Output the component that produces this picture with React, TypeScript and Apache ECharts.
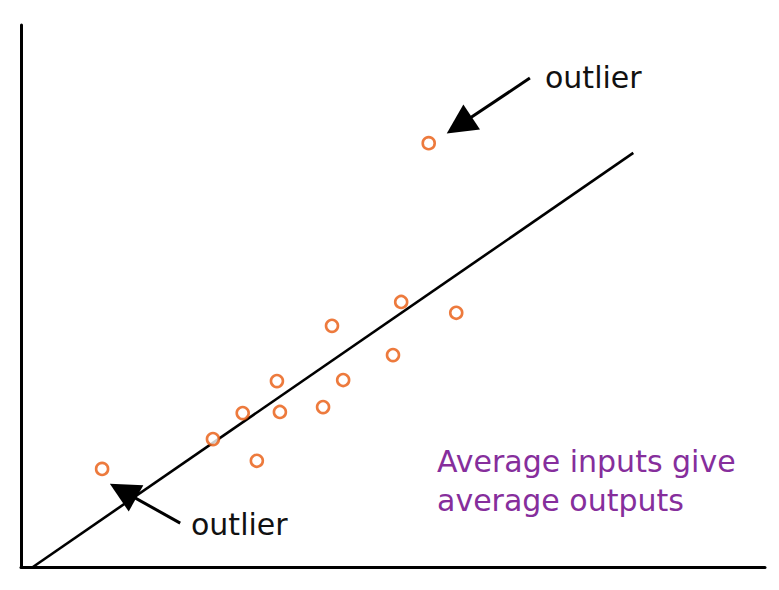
import React, { useEffect, useRef } from "react";
import * as echarts from "echarts";

// Scatter points [input, output]
const points: [number, number][] = [
  [54.8, 78.2],
  [10.9, 18.1],
  [51.1, 48.9],
  [58.5, 46.9],
  [41.8, 44.5],
  [50.0, 39.1],
  [34.4, 34.3],
  [43.3, 34.5],
  [29.8, 28.4],
  [34.8, 28.6],
  [40.6, 29.5],
  [25.8, 23.6],
  [31.7, 19.6],
];

// Trend line endpoints
const trendLine: [number, number][] = [
  [1.6, 0],
  [82.3, 76.4],
];

// Annotation arrows: [from, to]
const arrowTop: [number, number][] = [
  [68.4, 90.2],
  [58.9, 81.5],
];
const arrowBottom: [number, number][] = [
  [21.4, 8.1],
  [13.7, 14.0],
];

const labels = {
  outlier: "outlier",
  note1: "Average inputs give",
  note2: "average outputs",
};

const ORANGE = "#e8590c";
const PURPLE = "#862e9c";
const FONT = "'DejaVu Sans', sans-serif";

export default function App() {
  const ref = useRef<HTMLDivElement>(null);
  useEffect(() => {
    if (!ref.current) return;
    const chart = echarts.init(ref.current, undefined, { renderer: "svg" });
    chart.setOption({
      animation: false,
      backgroundColor: "#ffffff",
      grid: { left: 21, right: 14, top: 25, bottom: 23 },
      xAxis: {
        type: "value",
        min: 0,
        max: 100,
        axisLine: { show: true, lineStyle: { color: "#000", width: 3 } },
        axisTick: { show: false },
        axisLabel: { show: false },
        splitLine: { show: false },
      },
      yAxis: {
        type: "value",
        min: 0,
        max: 100,
        axisLine: { show: true, lineStyle: { color: "#000", width: 3 } },
        axisTick: { show: false },
        axisLabel: { show: false },
        splitLine: { show: false },
      },
      series: [
        {
          type: "line",
          data: trendLine,
          showSymbol: false,
          symbol: "none",
          lineStyle: { color: "#000", width: 2.6 },
          silent: true,
          clip: false,
          z: 2,
        },
        {
          type: "lines",
          coordinateSystem: "cartesian2d",
          symbol: ["none", "triangle"],
          symbolSize: [26, 30],
          lineStyle: { color: "#000", width: 3, opacity: 1 },
          data: [{ coords: arrowTop }, { coords: arrowBottom }],
          silent: true,
          z: 3,
        },
        {
          type: "scatter",
          data: points,
          symbol: "circle",
          symbolSize: 12,
          itemStyle: { color: "#fff", borderColor: ORANGE, borderWidth: 2.6 },
          z: 4,
        },
      ],
      graphic: [
        {
          type: "text",
          left: 545,
          top: 62,
          style: { text: labels.outlier, font: `500 30px ${FONT}`, fill: "#111" },
        },
        {
          type: "text",
          left: 191,
          top: 509,
          style: { text: labels.outlier, font: `500 30px ${FONT}`, fill: "#111" },
        },
        {
          type: "text",
          left: 437,
          top: 446,
          style: { text: labels.note1, font: `500 30px ${FONT}`, fill: PURPLE },
        },
        {
          type: "text",
          left: 437,
          top: 485,
          style: { text: labels.note2, font: `500 30px ${FONT}`, fill: PURPLE },
        },
      ],
    });
    return () => chart.dispose();
  }, []);
  return (
    <div
      ref={ref}
      style={{ position: "fixed", left: 0, top: 0, width: 779, height: 590 }}
    />
  );
}
